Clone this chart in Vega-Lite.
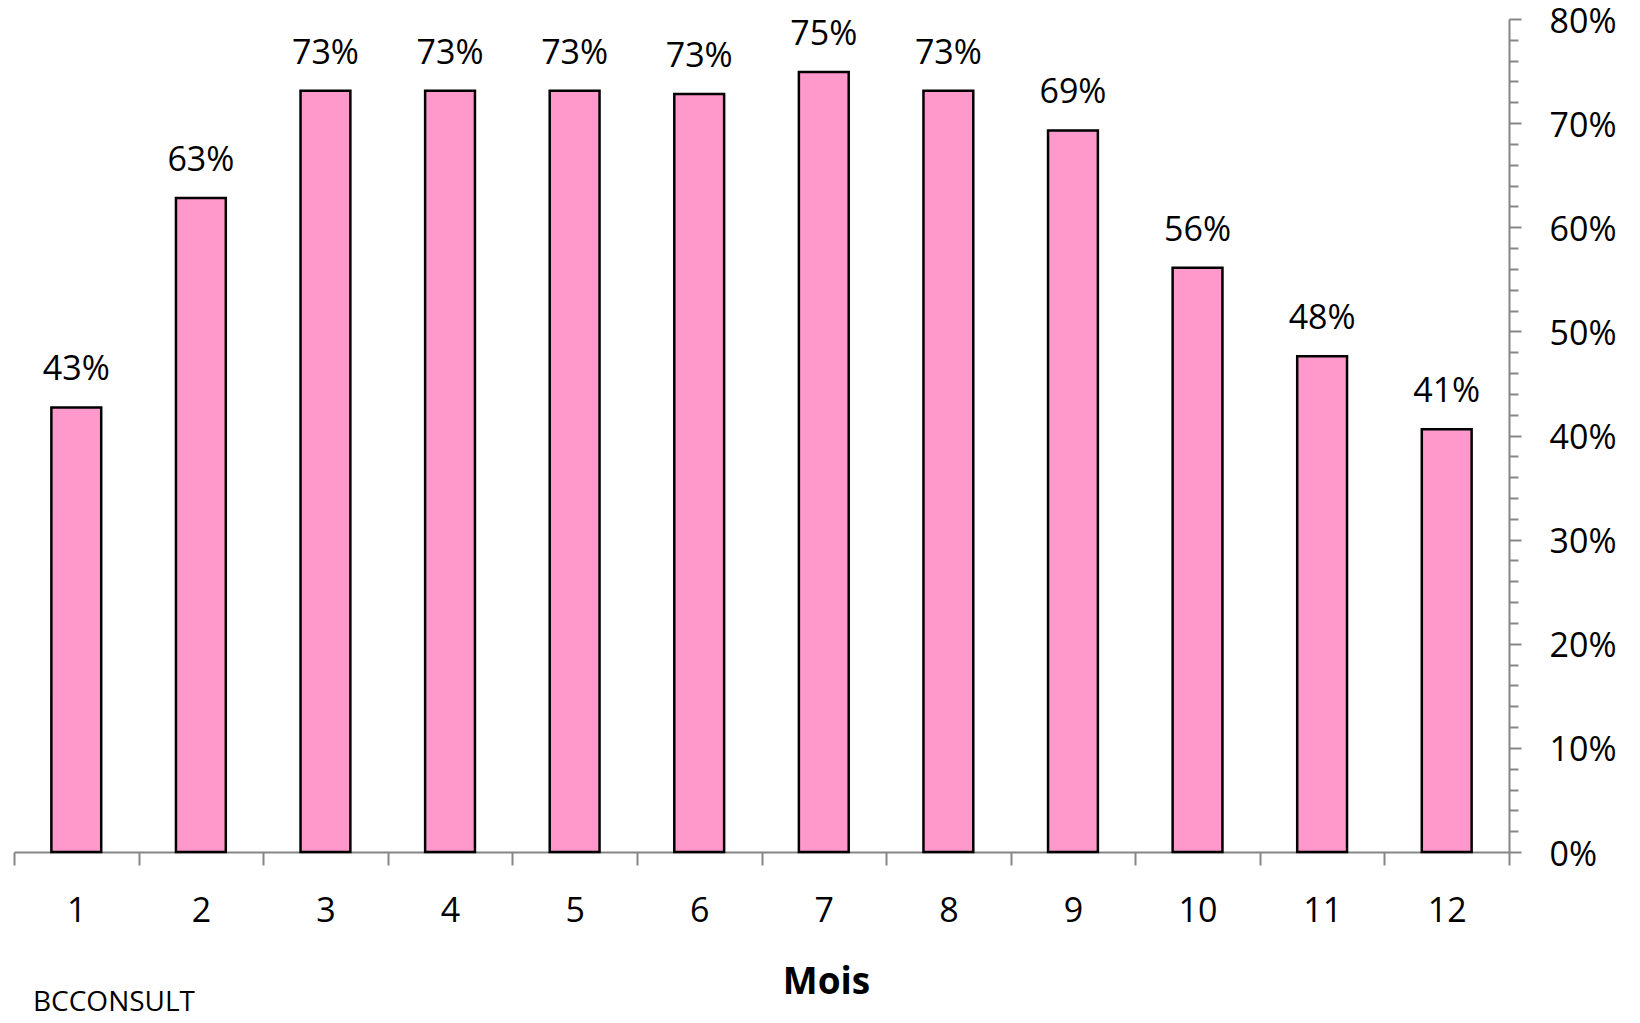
{
  "$schema": "https://vega.github.io/schema/vega-lite/v6.json",
  "width": 1495,
  "height": 833,
  "autosize": {"type": "none"},
  "padding": {"left": 14, "top": 19, "right": 131, "bottom": 171},
  "background": "white",
  "config": {"view": {"stroke": null}, "font": "Open Sans"},
  "title": {
    "text": "BCCONSULT",
    "orient": "bottom",
    "anchor": "start",
    "frame": "bounds",
    "font": "Open Sans",
    "fontSize": 28,
    "fontWeight": "normal",
    "color": "#000000",
    "offset": 0,
    "dx": 20,
    "dy": -11
  },
  "data": {
    "values": [
      {"mois": 1, "taux": 0.427},
      {"mois": 2, "taux": 0.628},
      {"mois": 3, "taux": 0.731},
      {"mois": 4, "taux": 0.731},
      {"mois": 5, "taux": 0.731},
      {"mois": 6, "taux": 0.728},
      {"mois": 7, "taux": 0.749},
      {"mois": 8, "taux": 0.731},
      {"mois": 9, "taux": 0.693},
      {"mois": 10, "taux": 0.561},
      {"mois": 11, "taux": 0.476},
      {"mois": 12, "taux": 0.406}
    ]
  },
  "encoding": {
    "x": {
      "field": "mois",
      "type": "ordinal",
      "scale": {"paddingInner": 0, "paddingOuter": 0},
      "axis": {
        "title": "Mois",
        "labelAngle": 0,
        "labelFont": "Open Sans",
        "labelFontSize": 34,
        "labelColor": "#000000",
        "labelPadding": 29,
        "tickBand": "extent",
        "tickSize": 13,
        "tickColor": "#868686",
        "tickWidth": 2,
        "domainColor": "#868686",
        "domainWidth": 2,
        "grid": false,
        "titleFont": "Open Sans",
        "titleFontSize": 37,
        "titleFontWeight": "bold",
        "titleColor": "#000000",
        "titleX": 812,
        "titleY": 141,
        "titleBaseline": "alphabetic",
        "titleAnchor": "middle",
        "titleAlign": "center"
      }
    },
    "y": {
      "field": "taux",
      "type": "quantitative",
      "scale": {"domain": [0, 0.8], "nice": false},
      "axis": {
        "orient": "right",
        "title": null,
        "grid": false,
        "values": [0, 0.02, 0.04, 0.06, 0.08, 0.1, 0.12, 0.14, 0.16, 0.18, 0.2, 0.22, 0.24, 0.26, 0.28, 0.3, 0.32, 0.34, 0.36, 0.38, 0.4, 0.42, 0.44, 0.46, 0.48, 0.5, 0.52, 0.54, 0.56, 0.58, 0.6, 0.62, 0.64, 0.66, 0.68, 0.7, 0.72, 0.74, 0.76, 0.78, 0.8],
        "labelExpr": "round(datum.value * 100) % 10 === 0 ? format(datum.value, '.0%') : ''",
        "labelFont": "Open Sans",
        "labelFontSize": 34,
        "labelColor": "#000000",
        "labelPadding": 28,
        "labelAlign": "left",
        "labelOffset": 3,
        "labelOverlap": false,
        "labelFlush": false,
        "tickSize": {"condition": {"test": "round(datum.value * 100) % 10 === 0", "value": 12}, "value": 9},
        "tickColor": "#868686",
        "tickWidth": 2,
        "domainColor": "#868686",
        "domainWidth": 2
      }
    }
  },
  "layer": [
    {
      "mark": {"type": "bar", "width": {"band": 0.4}, "fill": "#FF99CC", "stroke": "#000000", "strokeWidth": 2.5}
    },
    {
      "mark": {"type": "text", "font": "Open Sans", "fontSize": 34, "color": "#000000", "baseline": "alphabetic", "align": "center", "dy": -27},
      "encoding": {
        "text": {"field": "taux", "type": "quantitative", "format": ".0%"}
      }
    }
  ]
}
